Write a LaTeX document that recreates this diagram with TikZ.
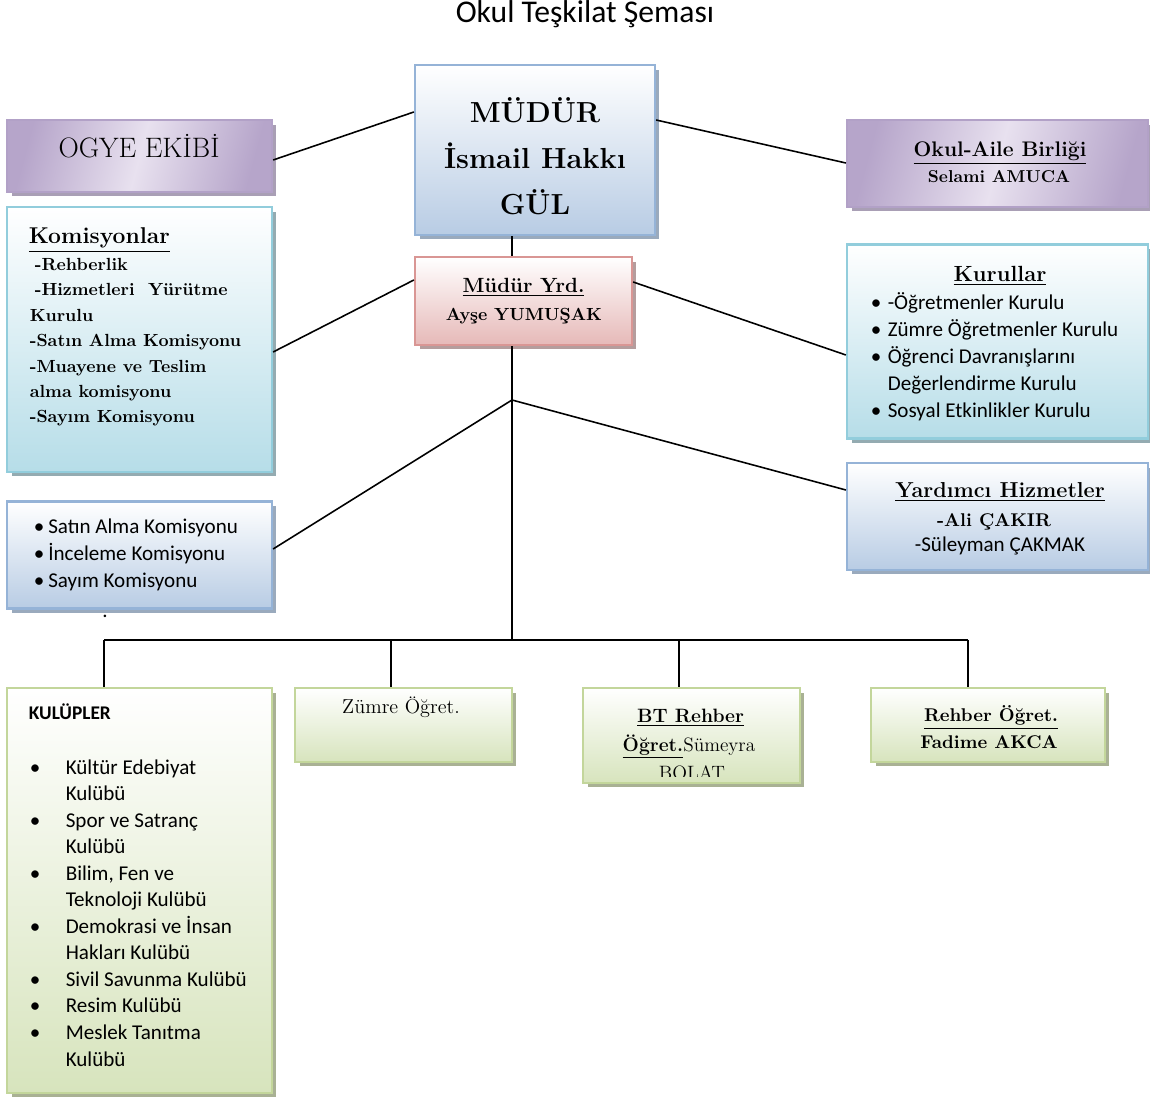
\documentclass[tikz,border=0pt]{standalone}
\usepackage{fontspec}
\newfontfamily\calibri{Carlito}
\usetikzlibrary{shadows}
\definecolor{bluebd}{HTML}{95B3D7}
\definecolor{bluefl}{HTML}{B8CCE4}
\definecolor{bluesh}{HTML}{9AAABD}
\definecolor{purpbd}{HTML}{B2A1C7}
\definecolor{purpfl}{HTML}{B6A5CA}
\definecolor{purplt}{HTML}{E8E1EF}
\definecolor{purpsh}{HTML}{A99FB5}
\definecolor{cyanbd}{HTML}{92CDDC}
\definecolor{cyanfl}{HTML}{B6DDE8}
\definecolor{cyansh}{HTML}{94ABB1}
\definecolor{redbd}{HTML}{D99694}
\definecolor{redfl}{HTML}{E6B9B8}
\definecolor{redsh}{HTML}{B59D9D}
\definecolor{grnbd}{HTML}{C3D69B}
\definecolor{grnfl}{HTML}{D7E4BD}
\definecolor{grnsh}{HTML}{A9B194}
\newcommand{\fsz}[2]{\fontsize{#1}{#2}\selectfont}
\newcommand{\blt}[1]{\makebox[#1][l]{•}}

\begin{document}
\begin{tikzpicture}[x=0.02cm, y=-0.02cm, line width=0.9pt,
  shbox/.style={line width=1.3pt, inner sep=0pt,
    drop shadow={shadow xshift=0.09cm, shadow yshift=-0.09cm, fill=#1, opacity=1}},
  bluebox/.style={shbox=bluesh, draw=bluebd, top color=white, bottom color=bluefl},
  cyanbox/.style={shbox=cyansh, draw=cyanbd, top color=white, bottom color=cyanfl},
  redbox/.style={shbox=redsh, draw=redbd, top color=white, bottom color=redfl},
  grnbox/.style={shbox=grnsh, draw=grnbd, top color=white, bottom color=grnfl},
  purpbox/.style={shbox=purpsh, draw=purpbd, left color=purpfl, right color=purpfl,
    middle color=purplt, shading angle=75},
  lbl/.style={inner sep=0pt}]
\useasboundingbox (0,0) rectangle (1150,1104);

\node[lbl, anchor=base, font=\calibri\fsz{18}{22}] (title) at (585,23) {Okul Teşkilat Şeması};

% boxes
\node[bluebox, minimum width=4.8cm, minimum height=3.4cm] (mudur) at (535,150) {};
\node[purpbox, minimum width=5.3cm, minimum height=1.44cm] (ogye) at (139.5,156) {};
\node[cyanbox, minimum width=5.3cm, minimum height=5.3cm] (komis) at (139.5,339.5) {};
\node[redbox, minimum width=4.34cm, minimum height=1.76cm] (yrd) at (523.5,301) {};
\node[purpbox, minimum width=6.02cm, minimum height=1.74cm] (aile) at (997.5,163.5) {};
\node[cyanbox, minimum width=6.02cm, minimum height=3.88cm] (kurul) at (997.5,341.5) {};
\node[bluebox, minimum width=5.3cm, minimum height=2.14cm] (satin) at (139.5,555) {};
\node[bluebox, minimum width=6.02cm, minimum height=2.14cm] (yard) at (997.5,516.5) {};
\node[grnbox, minimum width=5.3cm, minimum height=8.1cm] (kulup) at (139.5,890.5) {};
\node[grnbox, minimum width=4.34cm, minimum height=1.48cm] (zumre) at (403.5,725) {};
\node[grnbox, minimum width=4.34cm, minimum height=1.9cm] (bt) at (691.5,735.5) {};
\node[grnbox, minimum width=4.68cm, minimum height=1.48cm] (rehber) at (988,725) {};

% connectors
\draw (ogye.east |- 0,160) -- (mudur.west |- 0,112);
\draw (mudur.east |- 0,120) -- (aile.west |- 0,163);
\draw (mudur.south -| 512,0) -- (yrd.north -| 512,0);
\draw (komis.east |- 0,352) -- (yrd.west |- 0,280);
\draw (yrd.east |- 0,282) -- (kurul.west |- 0,355);
\coordinate (split) at (512,400);
\coordinate (bus) at (512,640);
\draw (yrd.south -| split) -- (bus);
\draw (split) -- (satin.east |- 0,549);
\draw (split) -- (yard.west |- 0,490);
\coordinate (d1) at (104,640);
\coordinate (d2) at (391,640);
\coordinate (d3) at (679,640);
\coordinate (d4) at (968,640);
\draw (d1) -- (d4);
\draw (d1) -- (d1 |- kulup.north);
\draw (d2) -- (d2 |- zumre.north);
\draw (d3) -- (d3 |- bt.north);
\draw (d4) -- (d4 |- rehber.north);

% texts (multi-line ones sit on the base of their last line)
\node[lbl, anchor=base, align=center, font=\bfseries\fsz{16.5}{26.2}] (t-mudur) at (535,215) {MÜDÜR\\İsmail Hakkı\\GÜL};
\node[lbl, anchor=base, font=\fsz{16}{19}] (t-ogye) at (139,158) {OGYE EKİBİ};
\node[lbl, anchor=base west, font=\bfseries\fsz{13}{15}] (t-komis) at (28,244) {\underline{Komisyonlar}};
\node[lbl, anchor=base west, align=left, font=\bfseries\fsz{10}{14.5}] (l-komis) at (29,423)
  {\hspace*{0.1cm}-Rehberlik\\\hspace*{0.1cm}-Hizmetleri\ \ Yürütme\\Kurulu\\-Satın Alma Komisyonu\\-Muayene ve Teslim\\alma komisyonu\\-Sayım Komisyonu};
\node[lbl, anchor=base, font=\bfseries\fsz{11.7}{14}] (t-yrd) at (523.5,293) {\underline{Müdür Yrd.}};
\node[lbl, anchor=base, font=\bfseries\fsz{10}{12}] (n-yrd) at (524,321) {Ayşe YUMUŞAK};
\node[lbl, anchor=base, font=\bfseries\fsz{12}{14}] (t-aile) at (1000,157) {\underline{Okul-Aile Birliği}};
\node[lbl, anchor=base, font=\bfseries\fsz{9.8}{12}] (n-aile) at (999,183) {Selami AMUCA};
\node[lbl, anchor=base, font=\bfseries\fsz{12.5}{15}] (t-kurul) at (1000,282) {\underline{Kurullar}};
\node[lbl, anchor=base west, align=left, font=\calibri\fsz{12}{15.4}] (l-kurul) at (870,418)
  {\blt{0.34cm}-Öğretmenler Kurulu\\\blt{0.34cm}Zümre Öğretmenler Kurulu\\\blt{0.34cm}Öğrenci Davranışlarını\\\hspace*{0.34cm}Değerlendirme Kurulu\\\blt{0.34cm}Sosyal Etkinlikler Kurulu};
\node[lbl, anchor=base west, align=left, font=\calibri\fsz{12}{15.6}] (l-satin) at (33,588)
  {\blt{0.29cm}Satın Alma Komisyonu\\\blt{0.29cm}İnceleme Komisyonu\\\blt{0.29cm}Sayım Komisyonu};
\node[lbl, anchor=base, font=\calibri\fsz{12}{14}] (dot) at (105,618) {.};
\node[lbl, anchor=base, font=\bfseries\fsz{12.3}{15}] (t-yard) at (1000,498) {\underline{Yardımcı Hizmetler}};
\node[lbl, anchor=base, font=\bfseries\fsz{10.5}{12}] (n-ali) at (994,527) {-Ali ÇAKIR};
\node[lbl, anchor=base, font=\calibri\fsz{12}{14}] (n-suley) at (1000,552) {-Süleyman ÇAKMAK};
\node[lbl, anchor=base west, font=\calibri\bfseries\fsz{11}{13}] (t-kulup) at (28,720) {KULÜPLER};
\node[lbl, anchor=base west, align=left, font=\calibri\fsz{12}{15.1}] (l-kulup) at (29,1066)
  {\blt{0.72cm}Kültür Edebiyat\\\hspace*{0.72cm}Kulübü\\\blt{0.72cm}Spor ve Satranç\\\hspace*{0.72cm}Kulübü\\\blt{0.72cm}Bilim, Fen ve\\\hspace*{0.72cm}Teknoloji Kulübü\\\blt{0.72cm}Demokrasi ve İnsan\\\hspace*{0.72cm}Hakları Kulübü\\\blt{0.72cm}Sivil Savunma Kulübü\\\blt{0.72cm}Resim Kulübü\\\blt{0.72cm}Meslek Tanıtma\\\hspace*{0.72cm}Kulübü};
\node[lbl, anchor=base, font=\fsz{11.5}{14}] (t-zumre) at (401,714) {Zümre Öğret.};
\begin{scope}
  \clip (bt.north west) rectangle (bt.south east |- 0,776);
  \node[lbl, anchor=base, font=\bfseries\fsz{11}{13}] (t-bt) at (690.5,723) {\underline{BT Rehber}};
  \node[lbl, anchor=base, font=\fsz{11}{13}] (n-bt) at (689,751) {\underline{\textbf{Öğret.}}Sümeyra};
  \node[lbl, anchor=base, font=\fsz{11}{13}] (n-bolat) at (692,779) {BOLAT};
\end{scope}
\node[lbl, anchor=base, font=\bfseries\fsz{10.5}{12}] (t-rehber) at (991,722) {\underline{Rehber Öğret.}};
\node[lbl, anchor=base, font=\bfseries\fsz{10.5}{12}] (n-rehber) at (989,748) {Fadime AKCA};
\end{tikzpicture}
\end{document}
